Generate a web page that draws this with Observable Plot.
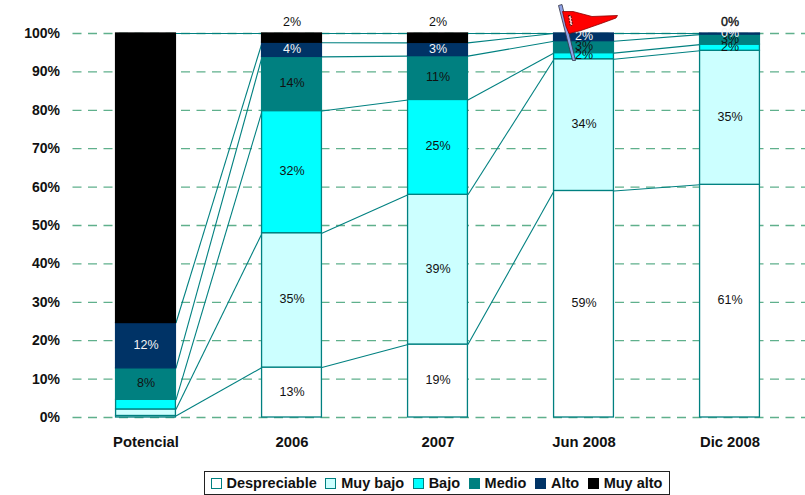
<!DOCTYPE html>
<html>
<head>
<meta charset="utf-8">
<script src="https://cdn.jsdelivr.net/npm/d3@7"></script>
<script src="https://cdn.jsdelivr.net/npm/@observablehq/plot@0.6"></script>
<style>
  html, body { margin: 0; padding: 0; background: #fff; overflow: hidden; }
  body { width: 805px; height: 495px; font-family: "Liberation Sans", Arial, sans-serif; }
  svg { display: block; }
  #legend {
    position: absolute; left: 203.5px; top: 471px; width: 466px; height: 24px; box-sizing: border-box;
    border: 1px solid #222; background: #fff;
    display: flex; align-items: center; justify-content: space-between; padding: 0 6px;
    font-weight: bold; font-size: 14.5px; color: #111;
  }
  #legend span.item { display: inline-flex; align-items: center; gap: 5px; white-space: nowrap; }
  #legend i { display: inline-block; width: 9px; height: 9px; border: 1px solid #008080; }
</style>
</head>
<body>
<div id="chart"></div>
<div id="legend"></div>
<script>
const categories = ["Potencial", "2006", "2007", "Jun 2008", "Dic 2008"];
const seriesNames = ["Despreciable", "Muy bajo", "Bajo", "Medio", "Alto", "Muy alto"];
const fills = ["#ffffff", "#ccffff", "#00ffff", "#008080", "#003366", "#000000"];
const strokes = ["#008080", "#008080", "#008080", "#008080", "#003366", "#000000"];
const labelColors = ["#111", "#111", "#111", "#111", "#f4f4f4", "#111"];

const despreciable = [0.4, 13, 19, 59, 60.6];
const muyBajo = [1.7, 35, 39, 34.3, 34.9];
const bajo = [2.5, 31.8, 24.7, 1.6, 1.6];
const medio = [8.2, 14.1, 11.4, 3.1, 2.6];
const alto = [11.8, 3.7, 3.45, 2.0, 0.3];
const muyAlto = [75.4, 2.4, 2.45, 0, 0];
const seriesValues = [despreciable, muyBajo, bajo, medio, alto, muyAlto];

const yTicks = [0, 10, 20, 30, 40, 50, 60, 70, 80, 90, 100];
const halfBar = 0.205;

// Stack the six series for every category
const segments = [];
categories.forEach((category, c) => {
  let base = 0;
  seriesValues.forEach((values, s) => {
    const value = values[c];
    segments.push({c, s, value, y1: base, y2: base + value});
    base += value;
  });
});

// Lines joining the top of each series across neighbouring bars
const connectors = segments
  .filter(d => d.c < categories.length - 1)
  .map(d => ({
    s: d.s,
    x1: d.c + halfBar,
    x2: d.c + 1 - halfBar,
    y1: d.y2,
    y2: segments.find(e => e.c === d.c + 1 && e.s === d.s).y2
  }));

const pct = v => `${Math.round(v)}%`;
const inBarLabels = segments.filter(d => d.s < 5 && (d.c > 0 || d.value > 5));
const topLabels = segments.filter(d => d.s === 5 && d.c > 0);

// Red pennant marking the Jun 2008 column; shapes are centred on the top of that bar
const polyline = points => ({draw(ctx) {
  points.forEach(([a, b], i) => i ? ctx.lineTo(a, b) : ctx.moveTo(a, b));
  ctx.closePath();
}});
const flagCloth = polyline([[-21.5, -22], [-11, -22], [8, -17], [33.5, -18], [32, -15.5], [17, -10], [-3, -3], [-15, 0], [-18, -7]]);
const flagFold = polyline([[-15.5, -18], [-13, -18], [-11.5, -9], [-13.5, -7]]);
const flagPole = polyline([[-25.5, -28], [-22, -29], [-8.5, 27], [-11.5, 27]]);

const plot = Plot.plot({
  width: 805,
  height: 470,
  marginLeft: 72.5,
  marginRight: 2.5,
  marginTop: 33,
  marginBottom: 53,
  style: {background: "transparent", fontFamily: "Liberation Sans, Arial, sans-serif", overflow: "visible"},
  x: {domain: [-0.5, 4.5], axis: null},
  y: {domain: [0, 100], axis: null},
  marks: [
    Plot.ruleY(yTicks, {x1: -0.5, x2: 4.52, stroke: "#5fb08c", strokeWidth: 1.3, strokeDasharray: "9 6.5"}),
    Plot.link(connectors, {x1: "x1", x2: "x2", y1: "y1", y2: "y2", stroke: "#008080", strokeWidth: 1.1}),
    Plot.rect(segments, {
      x1: d => d.c - halfBar, x2: d => d.c + halfBar, y1: "y1", y2: "y2",
      fill: d => fills[d.s], stroke: d => strokes[d.s], strokeWidth: 1.3
    }),
    Plot.text(inBarLabels, {
      x: "c", y: d => (d.y1 + d.y2) / 2, dy: -1, text: d => pct(d.value),
      fill: d => labelColors[d.s], fontSize: 12.5
    }),
    Plot.text(topLabels, {
      x: "c", y: 100, dy: -12, text: d => pct(d.value), fill: "#111", fontSize: 12.5,
      stroke: d => d.c === 4 ? "#111" : "none", strokeWidth: 0.4
    }),
    Plot.text(yTicks, {
      x: -0.5, y: d => d, dx: -13, text: d => `${d}%`, textAnchor: "end",
      fontSize: 14, fontWeight: "bold", fill: "#111"
    }),
    Plot.text(categories, {
      x: (d, i) => i, y: 0, dy: 25, text: d => d,
      fontSize: 14.8, fontWeight: "bold", fill: "#111"
    }),
    Plot.dot([3], {x: d => d, y: 100, symbol: flagPole, r: 4, fill: "#8fa2e6", stroke: "#334", strokeWidth: 0.8}),
    Plot.dot([3], {x: d => d, y: 100, symbol: flagCloth, r: 4, fill: "#ff0000", stroke: "#8a0000", strokeWidth: 0.8}),
    Plot.dot([3], {x: d => d, y: 100, symbol: flagFold, r: 4, fill: "#ffc8c8", stroke: "#300", strokeWidth: 0.8, strokeDasharray: "2 1"})
  ]
});
document.getElementById("chart").appendChild(plot);

const legend = document.getElementById("legend");
seriesNames.forEach((name, s) => {
  const item = document.createElement("span");
  item.className = "item";
  const swatch = document.createElement("i");
  swatch.style.background = fills[s];
  swatch.style.borderColor = strokes[s];
  item.appendChild(swatch);
  item.appendChild(document.createTextNode(name));
  legend.appendChild(item);
});
</script>
</body>
</html>
